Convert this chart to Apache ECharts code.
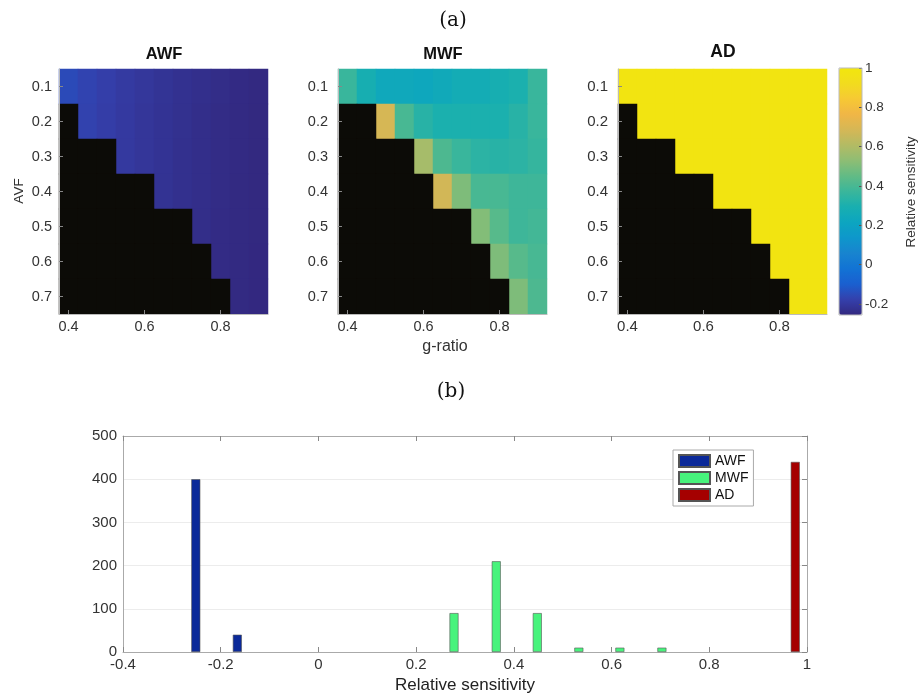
<!DOCTYPE html>
<html>
<head>
<meta charset="utf-8">
<script src="https://cdn.jsdelivr.net/npm/echarts@6/dist/echarts.min.js"></script>
<style>html,body{margin:0;padding:0;background:#fff;}#c{width:919px;height:695px;}</style>
</head>
<body>
<div id="c"></div>
<script>
// ---------- data ----------
const gRatio = ['0.4','0.45','0.5','0.55','0.6','0.65','0.7','0.75','0.8','0.85','0.9'];
const avf = ['0.1','0.2','0.3','0.4','0.5','0.6','0.7'];
const n = null;
const awf = [
  [-0.15,-0.168,-0.182,-0.195,-0.206,-0.216,-0.225,-0.233,-0.24,-0.247,-0.252],
  [n,-0.172,-0.186,-0.198,-0.209,-0.218,-0.227,-0.235,-0.242,-0.248,-0.253],
  [n,n,n,-0.2,-0.21,-0.219,-0.228,-0.236,-0.243,-0.248,-0.253],
  [n,n,n,n,n,-0.22,-0.229,-0.236,-0.243,-0.249,-0.253],
  [n,n,n,n,n,n,n,-0.237,-0.244,-0.249,-0.253],
  [n,n,n,n,n,n,n,n,-0.244,-0.249,-0.254],
  [n,n,n,n,n,n,n,n,n,-0.249,-0.254]
];
const mwf = [
  [0.37,0.29,0.24,0.24,0.23,0.25,0.27,0.27,0.29,0.30,0.37],
  [n,n,0.69,0.40,0.33,0.30,0.30,0.30,0.30,0.33,0.37],
  [n,n,n,n,0.58,0.41,0.37,0.34,0.33,0.34,0.36],
  [n,n,n,n,n,0.68,0.50,0.40,0.40,0.38,0.38],
  [n,n,n,n,n,n,n,0.51,0.43,0.38,0.39],
  [n,n,n,n,n,n,n,n,0.50,0.43,0.40],
  [n,n,n,n,n,n,n,n,n,0.50,0.41]
];
const ad = [
  [0.98,0.98,0.98,0.98,0.98,0.98,0.98,0.98,0.98,0.98,0.98],
  [n,0.98,0.98,0.98,0.98,0.98,0.98,0.98,0.98,0.98,0.98],
  [n,n,n,0.98,0.98,0.98,0.98,0.98,0.98,0.98,0.98],
  [n,n,n,n,n,0.98,0.98,0.98,0.98,0.98,0.98],
  [n,n,n,n,n,n,n,0.98,0.98,0.98,0.98],
  [n,n,n,n,n,n,n,n,0.98,0.98,0.98],
  [n,n,n,n,n,n,n,n,n,0.98,0.98]
];
const colorbarTicks = ['-0.2','0','0.2','0.4','0.6','0.8','1'];
// histogram (b)
const awfBins = [-0.251, -0.166];
const awfCounts = [400, 40];
const mwfBins = [0.2775, 0.364, 0.448, 0.533, 0.617, 0.703];
const mwfCounts = [90, 210, 90, 10, 10, 10];
const adBins = [0.976];
const adCounts = [440];

// ---------- styling ----------
const parula = ['#33287f','#3440ac','#1a5fd0','#1273d4','#1884cf','#0e97cb','#0ca5c0','#18afb0',
  '#3ab69b','#62bb85','#8ebd74','#b3bb64','#d5b756','#f0b646','#f6c934','#f2dc1e','#f2e70d'];
const FONT = 'Liberation Sans, Arial, Helvetica, sans-serif';
const TXT = '#333';

function cells(mat) {
  const d = [];
  mat.forEach((row, r) => row.forEach((v, c) => { if (v !== null) d.push([c, r, v]); }));
  return d;
}
function maskCells(mat) {
  const d = [];
  mat.forEach((row, r) => row.forEach((v, c) => { if (v === null) d.push([c, r, 0]); }));
  return d;
}

const heatGrids = [
  {left: 59, top: 69, width: 209, height: 245},
  {left: 338, top: 69, width: 209, height: 245},
  {left: 618, top: 69, width: 209, height: 245}
];
const yMargins = [7, 10, 10];
const lblSize = [14.5, 14.5, 15];
const showX = (i) => i % 4 === 0;

const xAxes = [], yAxes = [];
heatGrids.forEach((g, i) => {
  xAxes.push({
    type: 'category', gridIndex: i, data: gRatio, z: 10,
    axisLabel: {interval: (idx) => showX(idx), fontSize: lblSize[i], color: TXT, margin: 5, fontFamily: FONT},
    axisTick: {show: true, inside: true, alignWithLabel: true, interval: (idx) => showX(idx), length: 4, lineStyle: {color: '#888'}},
    axisLine: {onZero: false, lineStyle: {color: '#bbb'}},
    splitLine: {show: false}
  });
  yAxes.push({
    type: 'category', gridIndex: i, data: avf, inverse: true, z: 10,
    axisLabel: {fontSize: lblSize[i], color: TXT, margin: yMargins[i], fontFamily: FONT},
    axisTick: {show: true, inside: true, alignWithLabel: true, length: 4, lineStyle: {color: '#888'}},
    axisLine: {onZero: false, lineStyle: {color: '#bbb'}},
    splitLine: {show: false}
  });
});
// colorbar axis (grid 3)
xAxes.push({type: 'value', gridIndex: 3, show: false});
yAxes.push({
  type: 'value', gridIndex: 3, position: 'right', min: -0.2, max: 1, interval: 0.2, z: 10,
  axisLabel: {fontSize: 13.5, color: TXT, margin: 3, fontFamily: FONT,
    formatter: (v) => colorbarTicks[Math.round((v + 0.2) / 0.2)]},
  axisTick: {show: true, inside: true, length: 3, lineStyle: {color: '#555'}},
  axisLine: {show: false, onZero: false}, splitLine: {show: false}
});
// histogram axes (grid 4)
xAxes.push({
  type: 'value', gridIndex: 4, min: -0.4, max: 1, interval: 0.2,
  axisLabel: {fontSize: 15, color: TXT, margin: 5, fontFamily: FONT, formatter: (v) => String(Math.round(v * 10) / 10)},
  axisTick: {show: true, inside: true, length: 5, lineStyle: {color: '#888'}},
  axisLine: {show: true, onZero: false, lineStyle: {color: '#aaa'}},
  splitLine: {show: false},
  name: 'Relative sensitivity', nameLocation: 'middle', nameGap: 25,
  nameTextStyle: {fontSize: 17, color: '#222', fontFamily: FONT}
});
xAxes.push({
  type: 'value', gridIndex: 4, position: 'top', min: -0.4, max: 1, interval: 0.2,
  axisLabel: {show: false},
  axisTick: {show: true, inside: true, length: 5, lineStyle: {color: '#888'}},
  axisLine: {show: true, onZero: false, lineStyle: {color: '#aaa'}},
  splitLine: {show: false}
});
yAxes.push({
  type: 'value', gridIndex: 4, min: 0, max: 500, interval: 100,
  axisLabel: {fontSize: 15, color: TXT, margin: 6, fontFamily: FONT},
  axisTick: {show: false},
  axisLine: {show: true, onZero: false, lineStyle: {color: '#aaa'}},
  splitLine: {show: true, lineStyle: {color: '#ececec'}}
});
yAxes.push({
  type: 'value', gridIndex: 4, position: 'right', min: 0, max: 500, interval: 100,
  axisLabel: {show: false},
  axisTick: {show: true, inside: true, length: 5, lineStyle: {color: '#888'}},
  axisLine: {show: true, onZero: false, lineStyle: {color: '#aaa'}},
  splitLine: {show: false}
});

const mats = [awf, mwf, ad];
const series = [];
mats.forEach((m, i) => series.push({
  name: ['AWF map','MWF map','AD map'][i], type: 'heatmap', xAxisIndex: i, yAxisIndex: i,
  data: cells(m), itemStyle: {borderWidth: 0}, emphasis: {disabled: true}
}));
mats.forEach((m, i) => series.push({
  name: 'mask' + i, type: 'heatmap', xAxisIndex: i, yAxisIndex: i,
  data: maskCells(m), itemStyle: {color: '#0c0b07', borderWidth: 0}, emphasis: {disabled: true}
}));
const barDefs = [
  {name: 'AWF', bins: awfBins, counts: awfCounts, color: '#0b2999'},
  {name: 'MWF', bins: mwfBins, counts: mwfCounts, color: '#47f37c'},
  {name: 'AD', bins: adBins, counts: adCounts, color: '#a50000'}
];
barDefs.forEach(b => series.push({
  name: b.name, type: 'bar', xAxisIndex: 4, yAxisIndex: 4, barWidth: 9, barGap: '-100%',
  data: b.bins.map((x, k) => [x, b.counts[k]]),
  itemStyle: {color: b.color, borderColor: '#555', borderWidth: 0.6}
}));

function txt(x, y, text, size, opts) {
  opts = opts || {};
  return {
    type: 'text', x: x, y: y, rotation: opts.rotation || 0, z: 100,
    style: {text: text, x: 0, y: 0, fontSize: size, fontFamily: opts.family || FONT,
      fontWeight: opts.weight || 'normal', fill: opts.color || TXT,
      textAlign: 'center', textVerticalAlign: 'middle', align: 'center', verticalAlign: 'middle'}
  };
}

const option = {
  animation: false,
  backgroundColor: '#fff',
  grid: heatGrids.concat([
    {left: 839, top: 68, width: 23, height: 236},
    {left: 123, top: 436, width: 684, height: 216}
  ]),
  xAxis: xAxes,
  yAxis: yAxes,
  visualMap: {
    type: 'continuous', min: -0.255, max: 1, seriesIndex: [0, 1, 2],
    orient: 'vertical', left: 839, top: 68, itemWidth: 23, itemHeight: 247,
    padding: 0, calculable: false, hoverLink: false, realtime: false,
    inRange: {color: parula}, textStyle: {color: 'transparent'}
  },
  legend: {
    data: ['AWF', 'MWF', 'AD'], orient: 'vertical', left: 673, top: 450,
    padding: [4, 5, 4, 5], itemWidth: 31, itemHeight: 12, itemGap: 3, itemTextGap: 4,
    icon: 'rect', borderColor: '#aaa', borderWidth: 1, backgroundColor: '#fff',
    textStyle: {fontSize: 14, color: '#111', fontFamily: FONT}, selectedMode: false
  },
  graphic: [
    txt(453, 21, '(a)', 20, {family: 'DejaVu Serif, Liberation Serif, serif', color: '#111'}),
    txt(451, 392, '(b)', 20, {family: 'DejaVu Serif, Liberation Serif, serif', color: '#111'}),
    txt(164, 54, 'AWF', 16.5, {weight: 'bold', color: '#111'}),
    txt(443, 54, 'MWF', 16.5, {weight: 'bold', color: '#111'}),
    txt(723, 52, 'AD', 17.5, {weight: 'bold', color: '#111'}),
    txt(19, 191, 'AVF', 13.5, {rotation: Math.PI / 2}),
    txt(445, 347, 'g-ratio', 16, {}),
    txt(911, 192, 'Relative sensitivity', 13.5, {rotation: Math.PI / 2}),
    {type: 'rect', z: 100, shape: {x: 839, y: 68, width: 23, height: 247},
      style: {fill: 'none', stroke: '#bbb', lineWidth: 1}}
  ],
  series: series
};
const chart = echarts.init(document.getElementById('c'), null, {renderer: 'canvas'});
chart.setOption(option);
</script>
</body>
</html>
